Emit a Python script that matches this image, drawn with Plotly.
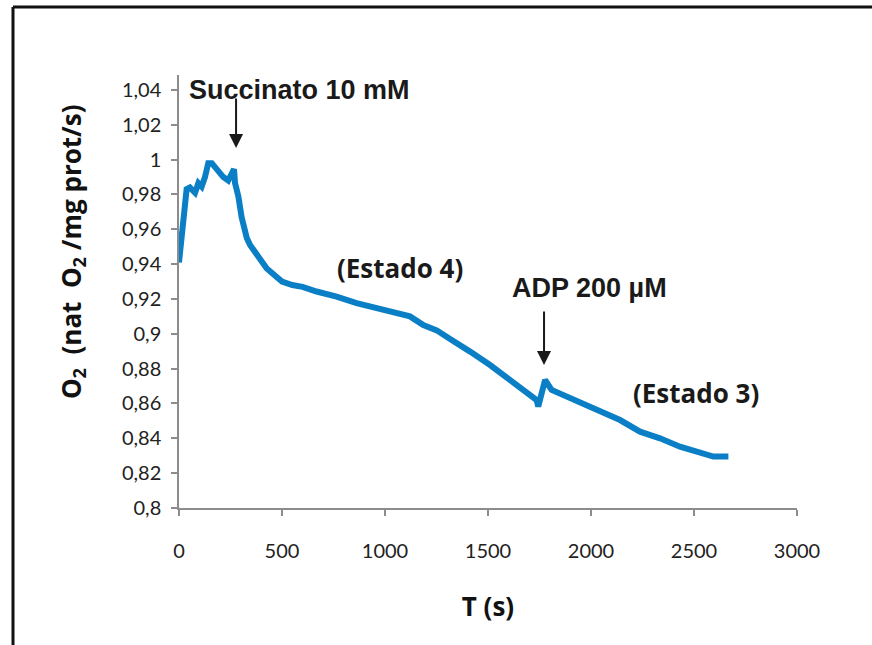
import plotly.graph_objects as go

# Oxygen consumption trace (time in s, O2 in nat O2/mg prot/s)
time_s = [0, 5, 21, 37, 53, 78, 94, 110, 126, 142, 159, 183, 215, 239, 256, 267,
          272, 288, 304, 329, 345, 377, 400, 426, 460, 500, 550, 600, 668, 765,
          862, 960, 1057, 1121, 1186, 1251, 1316, 1380, 1413, 1510, 1607, 1704,
          1736, 1744, 1760, 1777, 1809, 1898, 1995, 2044, 2141, 2238, 2335, 2432,
          2529, 2594, 2667]
o2_rate = [0.941, 0.947, 0.964, 0.983, 0.984, 0.981, 0.9865, 0.9845, 0.990, 0.998,
           0.998, 0.994, 0.990, 0.988, 0.992, 0.9945, 0.9866, 0.979, 0.967, 0.955,
           0.951, 0.946, 0.942, 0.9375, 0.934, 0.930, 0.928, 0.927, 0.9243, 0.9214,
           0.9176, 0.9147, 0.9118, 0.910, 0.905, 0.902, 0.8970, 0.8917, 0.8898,
           0.8821, 0.8735, 0.8649, 0.862, 0.8582, 0.866, 0.8735, 0.8678, 0.863,
           0.8582, 0.8553, 0.8505, 0.8438, 0.840, 0.8352, 0.8323, 0.8295, 0.8295]

x_ticks = [0, 500, 1000, 1500, 2000, 2500, 3000]
y_ticks = [0.80, 0.82, 0.84, 0.86, 0.88, 0.90, 0.92, 0.94, 0.96, 0.98, 1.00, 1.02, 1.04]
y_tick_text = ["0,8", "0,82", "0,84", "0,86", "0,88", "0,9", "0,92", "0,94",
               "0,96", "0,98", "1", "1,02", "1,04"]

# Additions marked with arrows: label, arrow time, arrow tip value, label time
succinato = ("Succinato 10 mM", 277, 1.0067, 587)
adp = ("ADP 200 µM", 1772, 0.8821, 1995, 0.9263)
states = [("(Estado 4)", 1073, 0.9378), ("(Estado 3)", 2510, 0.8660)]
y_title = "<b>O<sub>2</sub>  (nat  O<sub>2</sub> /mg prot/s)</b>"

fig = go.Figure()
fig.add_trace(go.Scatter(x=time_s, y=o2_rate, mode="lines",
                         line=dict(color="#0A7FC6", width=6),
                         hoverinfo="x+y", showlegend=False))

axis_font = dict(family="Lato, Open Sans, sans-serif", size=20, color="#222222")
title_font = dict(family="Open Sans, Lato, sans-serif", size=26, color="#111111")
label_font = dict(family="Liberation Sans, Arial, sans-serif", size=27, color="#1A1A1A")
state_font = dict(family="Open Sans, Lato, sans-serif", size=26, color="#1A1A1A")

fig.update_xaxes(range=[0, 3000], tickvals=x_ticks, ticktext=[str(v) for v in x_ticks],
                 showgrid=False, zeroline=False, showline=True, linecolor="#8C8C8C",
                 linewidth=1.5, ticks="outside", ticklen=6, tickcolor="#8C8C8C",
                 tickwidth=1.5, tickfont=axis_font, ticklabelstandoff=18,
                 title=dict(text="<b>T (s)</b>", font=title_font, standoff=37))
fig.update_yaxes(range=[0.8, 1.0486], tickvals=y_ticks, ticktext=y_tick_text,
                 showgrid=False, zeroline=False, showline=True, linecolor="#8C8C8C",
                 linewidth=1.5, ticks="outside", ticklen=6, tickcolor="#8C8C8C",
                 tickwidth=1.5, tickfont=axis_font, ticklabelstandoff=6)

# Vertical axis title, set a little above the plot centre
fig.add_annotation(x=-0.1731, y=0.591, xref="paper", yref="paper", text=y_title,
                   xanchor="center", yanchor="middle",
                   textangle=-90, showarrow=False, font=title_font)

arrow_style = dict(text="", showarrow=True, arrowhead=2, arrowsize=1.4,
                   arrowwidth=2, arrowcolor="#1A1A1A", ax=0)

# Succinato addition
fig.add_annotation(x=succinato[1], y=succinato[2], ay=-51, **arrow_style)
fig.add_annotation(x=succinato[3], y=1.0046, yref="paper", xref="x",
                   text="<b>%s</b>" % succinato[0], showarrow=False, font=label_font)

# ADP addition
fig.add_annotation(x=adp[1], y=adp[2], ay=-55, **arrow_style)
fig.add_annotation(x=adp[3], y=adp[4], text="<b>%s</b>" % adp[0],
                   showarrow=False, font=label_font)

for label, t, v in states:
    fig.add_annotation(x=t, y=v, text="<b>%s</b>" % label, showarrow=False,
                       font=state_font)

# Frame edges along the top and left side
fig.add_shape(type="line", xref="paper", yref="paper", x0=-0.2686, x1=1.13,
              y0=1.157, y1=1.157, line=dict(color="#111111", width=3))
fig.add_shape(type="line", xref="paper", yref="paper", x0=-0.2686, x1=-0.2686,
              y0=1.157, y1=-0.35, line=dict(color="#111111", width=3))

fig.update_layout(width=872, height=645, margin=dict(l=179, r=75, t=75, b=137),
                  paper_bgcolor="white", plot_bgcolor="white")

fig.write_html("out.html")
